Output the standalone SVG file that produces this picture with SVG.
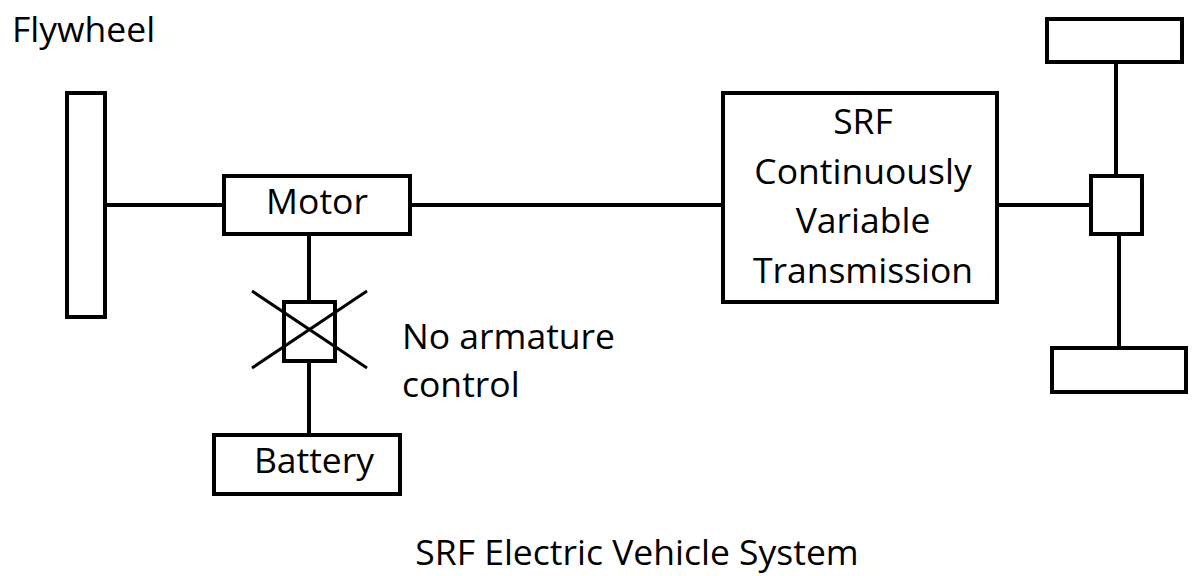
<svg xmlns="http://www.w3.org/2000/svg" width="1195" height="576" viewBox="0 0 1195 576">
<style>
.box{fill:#fff;stroke:#000;stroke-width:4}
.ln{stroke:#000;stroke-width:4;fill:none}
.x{stroke:#000;stroke-width:3;fill:none}
text{font-family:"Open Sans","Liberation Sans",sans-serif;font-size:35.5px;fill:#000}
.c{text-anchor:middle}
</style>
<rect width="1195" height="576" fill="#fff"/>
<g id="connectors">
<line class="ln" x1="105" y1="205" x2="224" y2="205"/>
<line class="ln" x1="410" y1="205" x2="723" y2="205"/>
<line class="ln" x1="997" y1="205" x2="1091" y2="205"/>
<line class="ln" x1="1116" y1="62" x2="1116" y2="176"/>
<line class="ln" x1="1119" y1="234" x2="1119" y2="348"/>
<line class="ln" x1="309" y1="234" x2="309" y2="302"/>
<line class="ln" x1="309" y1="361" x2="309" y2="435"/>
</g>
<g id="flywheel-label"><text x="12" y="42">Flywheel</text></g>
<g id="flywheel"><rect class="box" x="67" y="93" width="38" height="224"/></g>
<g id="motor"><rect class="box" x="224" y="176" width="186" height="58"/><text class="c" x="317" y="214">Motor</text></g>
<g id="switch"><rect class="box" x="284" y="302" width="51" height="59"/>
<line class="x" x1="252" y1="291" x2="367" y2="368"/><line class="x" x1="367" y1="291" x2="252" y2="368"/></g>
<g id="switch-label"><text x="402" y="349">No armature</text><text x="402" y="397">control</text></g>
<g id="battery"><rect class="box" x="214" y="435" width="186" height="59"/><text class="c" x="314" y="473">Battery</text></g>
<g id="cvt"><rect class="box" x="723" y="93" width="274" height="209"/>
<text class="c" x="863" y="134">SRF</text>
<text class="c" x="863" y="184">Continuously</text>
<text class="c" x="863" y="233">Variable</text>
<text class="c" x="863" y="283">Transmission</text></g>
<g id="hub"><rect class="box" x="1091" y="176" width="51" height="58"/></g>
<g id="wheel-top"><rect class="box" x="1047" y="19" width="135" height="43"/></g>
<g id="wheel-bottom"><rect class="box" x="1052" y="348" width="134" height="44"/></g>
<g id="title"><text class="c" x="637" y="565">SRF Electric Vehicle System</text></g>
</svg>
